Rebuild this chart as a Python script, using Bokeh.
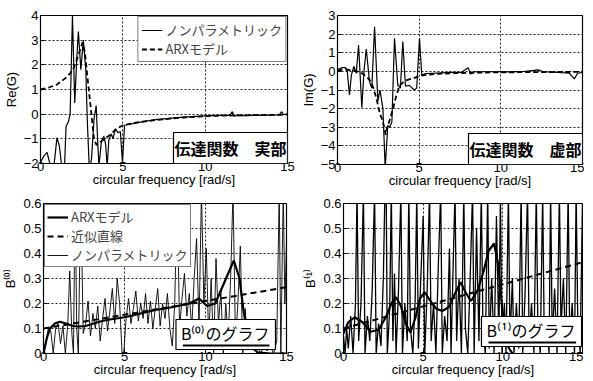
from bokeh.plotting import figure
from bokeh.models import FixedTicker, Legend, LegendItem, Label, BoxAnnotation, Range1d
from bokeh.layouts import column, row
from bokeh.embed import file_html
from bokeh.resources import INLINE

# ---------------- data ----------------
x_ticks = [0, 5, 10, 15]
re_ticks = [-2, -1, 0, 1, 2, 3, 4]
im_ticks = [-5, -4, -3, -2, -1, 0, 1, 2, 3]
b_ticks = [0, 0.1, 0.2, 0.3, 0.4, 0.5, 0.6]
b_tick_labels = ["0", "0.1", "0.2", "0.3", "0.4", "0.5", "0.6"]

# Re(G)
re_np_x = [0.0, 0.2, 0.4, 0.6, 0.8, 1.0, 1.15, 1.3, 1.45, 1.55, 1.7, 1.8, 1.94, 2.08, 2.2, 2.3,
           2.45, 2.6, 2.75, 2.85, 2.97, 3.1, 3.25, 3.38, 3.48, 3.55, 3.7, 3.85, 3.95, 4.05, 4.15,
           4.3, 4.4, 4.55, 4.7, 4.85, 4.98, 5.1, 5.3, 5.6, 6.0, 6.5, 7.0, 7.5, 8.0, 8.5, 9.0, 9.5,
           10.0, 10.5, 11.0, 11.5, 11.65, 11.75, 12.0, 12.5, 13.0, 13.5, 14.0, 14.5, 14.65, 14.75, 15.0]
re_np_y = [-1.95, -1.7, -1.55, -2.1, -2.2, -0.95, -1.3, -2.2, -2.3, -0.5, -0.3, 0.0, 4.0, 0.45, 2.2, 3.35,
           1.8, 3.0, 1.8, -0.4, -2.3, -1.8, -0.2, 0.35, -1.2, -2.1, -1.1, -0.9, -1.2, -2.1, -1.05,
           -0.8, -1.0, -0.6, -0.75, -0.7, -2.0, -0.45, -0.42, -0.38, -0.33, -0.27, -0.22, -0.19, -0.16, -0.13, -0.11, -0.09,
           -0.07, -0.06, -0.05, -0.05, 0.1, -0.08, -0.05, -0.06, -0.04, -0.05, -0.04, -0.03, 0.1, -0.02, 0.0]
re_arx_x = [0, 0.5, 1.0, 1.5, 1.8, 2.0, 2.2, 2.4, 2.55, 2.7, 2.85, 3.05, 3.25, 3.4, 3.6, 3.8, 4.2, 4.6,
            5.0, 5.5, 6, 7, 8, 9, 10, 11, 12, 13, 14, 15]
re_arx_y = [1.0, 1.08, 1.2, 1.45, 1.65, 1.85, 2.2, 2.6, 2.9, 2.5, 1.5, 0.27, -1.0, -1.25, -1.15, -1.05, -0.85, -0.6,
            -0.45, -0.38, -0.32, -0.24, -0.17, -0.12, -0.08, -0.06, -0.05, -0.04, -0.03, -0.02]

# Im(G)
im_np_x = [0.0, 0.3, 0.5, 0.6, 0.73, 0.85, 1.0, 1.15, 1.29, 1.49, 1.62, 1.76, 1.96, 2.1, 2.27, 2.47, 2.6,
           2.78, 2.92, 3.08, 3.2, 3.33, 3.49, 3.69, 3.85, 4.0, 4.16, 4.4, 4.7, 4.85, 5.02, 5.16, 5.4, 5.8,
           6.3, 7.0, 7.6, 8.0, 8.15, 8.3, 8.6, 9.5, 10.5, 11.5, 12.3, 12.6, 13.5, 14.2, 14.5, 14.7, 15.0]
im_np_y = [0.1, 0.2, 0.2, 0.0, -1.27, -0.2, 0.26, -0.1, 1.42, -1.95, 0.0, 1.2, -0.55, -0.9, 2.4, -1.6, -1.0,
           -2.0, -5.2, -2.9, -3.0, -2.7, 1.78, -0.73, -0.9, 1.6, -0.8, -0.75, -1.0, -0.9, 1.78, -0.2, -0.12, -0.1,
           -0.08, -0.05, -0.05, 0.2, -0.15, -0.03, -0.02, -0.02, -0.03, 0.0, 0.08, -0.02, -0.05, -0.1, -0.4, -0.1, -0.05]
im_arx_x = [0, 0.5, 1.0, 1.5, 1.8, 2.0, 2.2, 2.4, 2.6, 2.75, 2.88, 2.95, 3.05, 3.2, 3.4, 3.6, 3.8, 4.0, 4.3,
            4.6, 5.0, 5.5, 6, 7, 8, 9, 10, 12, 15]
im_arx_y = [0.05, 0.1, 0.05, -0.1, -0.3, -0.5, -0.9, -1.5, -2.3, -2.6, -3.1, -3.4, -3.0, -2.6, -2.0, -1.3, -0.76, -0.6, -0.45,
            -0.38, -0.25, -0.18, -0.14, -0.1, -0.08, -0.06, -0.05, -0.04, -0.03]

# B(0)
b0_np_x = [0, 0.15, 0.3, 0.45, 0.6, 0.75, 0.9, 1.05, 1.2, 1.35, 1.5, 1.62, 1.75, 1.85, 1.95, 2.05, 2.15,
           2.3, 2.45, 2.6, 2.75, 2.9, 3.05, 3.2, 3.35, 3.5, 3.65, 3.8, 3.95, 4.1, 4.25, 4.4, 4.55, 4.7,
           4.85, 4.95, 5.1, 5.25, 5.4, 5.55, 5.7, 5.85, 6.0, 6.15, 6.3, 6.45, 6.6, 6.75, 6.9, 7.05, 7.2,
           7.35, 7.5, 7.65, 7.8, 7.95, 8.1, 8.25, 8.4, 8.55, 8.7, 8.85, 9.0, 9.15, 9.3, 9.45, 9.6, 9.75,
           9.9, 10.05, 10.2, 10.35, 10.5, 10.65, 10.8, 10.95, 11.1, 11.25, 11.4, 11.55, 11.7, 11.85, 12.0,
           12.15, 12.3, 12.45, 12.6, 12.8, 13.0, 13.2, 13.4, 13.6, 13.8, 14.0, 14.2, 14.4, 14.55, 14.65,
           14.8, 14.9, 15.0]
b0_np_y = [0.0, 0.05, 0.1, 0.09, 0.0, 0.1, 0.12, 0.04, 0.11, 0.0, 0.12, 0.33, 0.08, 0.0, 0.65, 0.1, 0.0,
           0.65, 0.08, 0.12, 0.21, 0.07, 0.16, 0.1, 0.19, 0.05, 0.14, 0.22, 0.09, 0.17, 0.26, 0.12, 0.3, 0.2,
           0.0, 0.0, 0.14, 0.22, 0.12, 0.18, 0.25, 0.13, 0.2, 0.14, 0.24, 0.12, 0.21, 0.1, 0.18, 0.26, 0.11,
           0.2, 0.14, 0.24, 0.1, 0.03, 0.2, 0.65, 0.1, 0.22, 0.32, 0.15, 0.24, 0.1, 0.3, 0.46, 0.1, 0.65,
           0.2, 0.42, 0.05, 0.3, 0.0, 0.38, 0.12, 0.25, 0.0, 0.2, 0.06, 0.3, 0.65, 0.05, 0.2,
           0.43, 0.0, 0.18, 0.02, 0.08, 0.01, 0.03, 0.0, 0.03, 0.01, 0.03, 0.0, 0.05, 0.65, 0.0,
           0.65, 0.2, 0.45]
b0_arx_x = [0, 0.2, 0.4, 0.7, 1.0, 1.4, 1.8, 2.2, 2.6, 3.0, 3.5, 4.0, 4.5, 5.0, 5.5, 6.0, 6.5, 7.0, 7.5,
            8.0, 8.5, 9.0, 9.6, 10.1, 10.6, 11.2, 11.75, 12.1, 12.35, 12.6, 12.85, 13.2, 14.0, 15.0]
b0_arx_y = [0.0, 0.06, 0.1, 0.12, 0.127, 0.12, 0.11, 0.108, 0.11, 0.118, 0.128, 0.135, 0.14, 0.145, 0.152,
            0.16, 0.168, 0.175, 0.18, 0.186, 0.193, 0.2, 0.22, 0.19, 0.2, 0.29, 0.372, 0.3, 0.17, 0.08, 0.03,
            0.005, 0.0, 0.0]
b0_fit_x = [0, 15]
b0_fit_y = [0.1, 0.265]

# B(1)
b1_np_x = [0, 0.1, 0.2, 0.3, 0.45, 0.6, 0.75, 0.85, 0.95, 1.1, 1.25, 1.35, 1.5, 1.65, 1.8, 1.95, 2.05,
           2.2, 2.35, 2.5, 2.6, 2.68, 2.75, 2.9, 3.0, 3.1, 3.2, 3.3, 3.45, 3.6, 3.7, 3.85, 4.0, 4.1, 4.2,
           4.35, 4.5, 4.6, 4.7, 4.85, 5.0, 5.1, 5.25, 5.4, 5.5, 5.65, 5.8, 5.95, 6.1, 6.2, 6.35, 6.5,
           6.65, 6.75, 6.9, 7.0, 7.1, 7.25, 7.4, 7.55, 7.65, 7.8, 7.95, 8.1, 8.2, 8.35, 8.5, 8.65, 8.75,
           8.9, 9.05, 9.15, 9.3, 9.45, 9.6, 9.75, 9.85, 9.95, 10.1, 10.2, 10.35, 10.45, 10.6, 10.7, 10.85,
           11.0, 11.15, 11.25, 11.4, 11.55, 11.65, 11.8, 11.95, 12.1, 12.2, 12.35, 12.5, 12.6, 12.75, 12.9,
           13.0, 13.1, 13.25, 13.4, 13.55, 13.65, 13.8, 13.95, 14.1, 14.2, 14.35, 14.5, 14.6, 14.7, 14.85, 15.0]
b1_np_y = [0.07, 0.0, 0.1, 0.02, 0.15, 0.0, 0.2, 0.65, 0.05, 0.2, 0.65, 0.0, 0.15, 0.05, 0.25, 0.65, 0.0,
           0.12, 0.03, 0.3, 0.65, 0.65, 0.0, 0.18, 0.65, 0.05, 0.32, 0.0, 0.25, 0.65, 0.0, 0.2, 0.05, 0.65, 0.1,
           0.0, 0.22, 0.65, 0.02, 0.3, 0.55, 0.0, 0.25, 0.65, 0.05, 0.2, 0.0, 0.35, 0.65, 0.0, 0.15, 0.05,
           0.42, 0.0, 0.4, 0.65, 0.05, 0.3, 0.0, 0.65, 0.1, 0.0, 0.3, 0.65, 0.0, 0.5, 0.05, 0.65, 0.1,
           0.0, 0.65, 0.02, 0.3, 0.0, 0.55, 0.05, 0.65, 0.0, 0.2, 0.0, 0.65, 0.05, 0.3, 0.0, 0.2,
           0.02, 0.65, 0.0, 0.25, 0.65, 0.05, 0.2, 0.0, 0.65, 0.1, 0.0, 0.65, 0.05, 0.15, 0.0,
           0.65, 0.05, 0.26, 0.0, 0.65, 0.1, 0.3, 0.0, 0.65, 0.05, 0.2, 0.0, 0.65, 0.15, 0.0, 0.6]
b1_arx_x = [0, 0.3, 0.7, 1.2, 1.7, 2.2, 2.7, 3.0, 3.3, 3.6, 3.9, 4.2, 4.5, 4.8, 5.1, 5.4, 5.8, 6.2, 6.6,
            7.0, 7.35, 7.7, 8.0, 8.4, 8.8, 9.1, 9.45, 9.7, 9.9, 10.1, 10.3, 10.6, 11.0, 13.0, 15.0]
b1_arx_y = [0.08, 0.125, 0.145, 0.125, 0.087, 0.095, 0.15, 0.2, 0.225, 0.19, 0.12, 0.084, 0.14, 0.22, 0.245,
            0.215, 0.18, 0.17, 0.185, 0.24, 0.285, 0.24, 0.21, 0.25, 0.33, 0.41, 0.44, 0.36, 0.22, 0.1, 0.03,
            0.0, -0.02, -0.02, -0.02]
b1_fit_x = [0, 15]
b1_fit_y = [0.1, 0.365]

FONT = "Liberation Sans"
JP = "Noto Sans CJK JP"


def make_fig(yr, yticks, ylabel, mbl, fw, mbr, mbt, fh, mbb, ylabels=None):
    p = figure(frame_width=fw, frame_height=fh, x_range=Range1d(0, 15), y_range=Range1d(*yr),
               output_backend="svg", toolbar_location=None,
               min_border_left=mbl, min_border_right=mbr, min_border_top=mbt, min_border_bottom=mbb)
    p.background_fill_color = "white"
    p.border_fill_color = "white"
    p.outline_line_color = "black"
    p.outline_line_width = 1.2
    p.xaxis.ticker = FixedTicker(ticks=x_ticks)
    p.yaxis.ticker = FixedTicker(ticks=yticks)
    if ylabels is not None:
        p.yaxis.major_label_overrides = {t: l for t, l in zip(yticks, ylabels)}
    for ax in (p.xaxis, p.yaxis):
        ax.major_tick_in = 4
        ax.major_tick_out = 0
        ax.minor_tick_line_color = None
        ax.axis_line_color = "black"
        ax.major_label_text_font = FONT
        ax.major_label_text_font_size = "13px"
        ax.major_label_text_color = "black"
        ax.axis_label_text_font = FONT
        ax.axis_label_text_font_size = "13px"
        ax.axis_label_text_font_style = "normal"
        ax.axis_label_text_color = "black"
    p.xaxis.axis_label = "circular frequency [rad/s]"
    p.xaxis.major_label_standoff = -2
    p.xaxis.axis_label_standoff = -2
    p.yaxis.axis_label = ylabel
    p.yaxis.major_label_standoff = 2
    p.yaxis.axis_label_standoff = 2
    for g in (p.xgrid, p.ygrid):
        g.grid_line_color = "#222222"
        g.grid_line_dash = "2 2"
        g.grid_line_width = 1
    return p


def box_label(p, text, x, y, size, bold=True, pad=None):
    lab = Label(x=x, y=y, text=text, text_font=JP, text_font_size=size,
                text_font_style="bold" if bold else "normal",
                text_align="right", text_baseline="bottom", text_color="black",
                background_fill_color="white", border_line_color="black", border_line_width=1.2,
                padding=pad if pad is not None else dict(left=1, right=1, top=3, bottom=4))
    p.add_layout(lab)


def make_legend(items, loc, pad, row_h):
    return Legend(items=items, location=loc, margin=1, padding=pad, spacing=0,
                  glyph_height=row_h, label_height=row_h, glyph_width=21, label_standoff=3,
                  label_text_font=JP, label_text_font_size="13px",
                  border_line_color="black", border_line_width=1.2, background_fill_alpha=1)


# ---- panel 1 ----
p1 = make_fig((-2, 4), re_ticks, "Re(G)", 35, 247, 10, 15, 148, 28)
r1a = p1.line(re_np_x, re_np_y, line_color="black", line_width=1.2)
r1b = p1.line(re_arx_x, re_arx_y, line_color="black", line_width=1.8, line_dash="5 3")
p1.add_layout(make_legend([LegendItem(label="ノンパラメトリック", renderers=[r1a]),
                           LegendItem(label="ARXモデル", renderers=[r1b])], "top_right", 3, 18))
box_label(p1, "伝達関数　実部", 15, -2, "16px")

# ---- panel 2 ----
p2 = make_fig((-5, 3), im_ticks, "Im(G)", 38, 245, 2, 14, 149, 28)
p2.line(im_np_x, im_np_y, line_color="black", line_width=1.2)
p2.line(im_arx_x, im_arx_y, line_color="black", line_width=1.8, line_dash="5 3")
box_label(p2, "伝達関数　虚部", 15, -5, "16px")

# ---- panel 3 ----
p3 = make_fig((0, 0.6), b_ticks, "B⁽⁰⁾", 37, 243, 12, 12, 150, 22, b_tick_labels)
r3c = p3.line(b0_np_x, b0_np_y, line_color="black", line_width=0.9)
r3b = p3.line(b0_fit_x, b0_fit_y, line_color="black", line_width=2, line_dash="6 4")
r3a = p3.line(b0_arx_x, b0_arx_y, line_color="black", line_width=2.2)
p3.add_layout(make_legend([LegendItem(label="ARXモデル", renderers=[r3a]),
                           LegendItem(label="近似直線", renderers=[r3b]),
                           LegendItem(label="ノンパラメトリック", renderers=[r3c])], "top_left", 2, 16))
box_label(p3, "B⁽⁰⁾のグラフ", 14.32, 0.016, "16px", bold=False,
          pad=dict(left=5, right=6, top=1, bottom=5))
p3.add_layout(BoxAnnotation(left=8.6, right=13.95, bottom=0.028, top=0.036,
                            fill_color="black", fill_alpha=1, line_color=None))

# ---- panel 4 ----
p4 = make_fig((0, 0.6), b_ticks, "B⁽¹⁾", 45, 239, 1, 12, 150, 22, b_tick_labels)
p4.line(b1_np_x, b1_np_y, line_color="black", line_width=1.3)
p4.line(b1_fit_x, b1_fit_y, line_color="black", line_width=2, line_dash="6 4")
p4.line(b1_arx_x, b1_arx_y, line_color="black", line_width=2.2)
box_label(p4, "B⁽¹⁾のグラフ", 14.94, 0.028, "16px", bold=False,
          pad=dict(left=5, right=6, top=1, bottom=5))
p4.add_layout(BoxAnnotation(left=9.1, right=14.6, bottom=0.04, top=0.048,
                            fill_color="black", fill_alpha=1, line_color=None))

layout = column(row(p1, p2), row(p3, p4))
open("out.html", "w").write(file_html(layout, INLINE))
